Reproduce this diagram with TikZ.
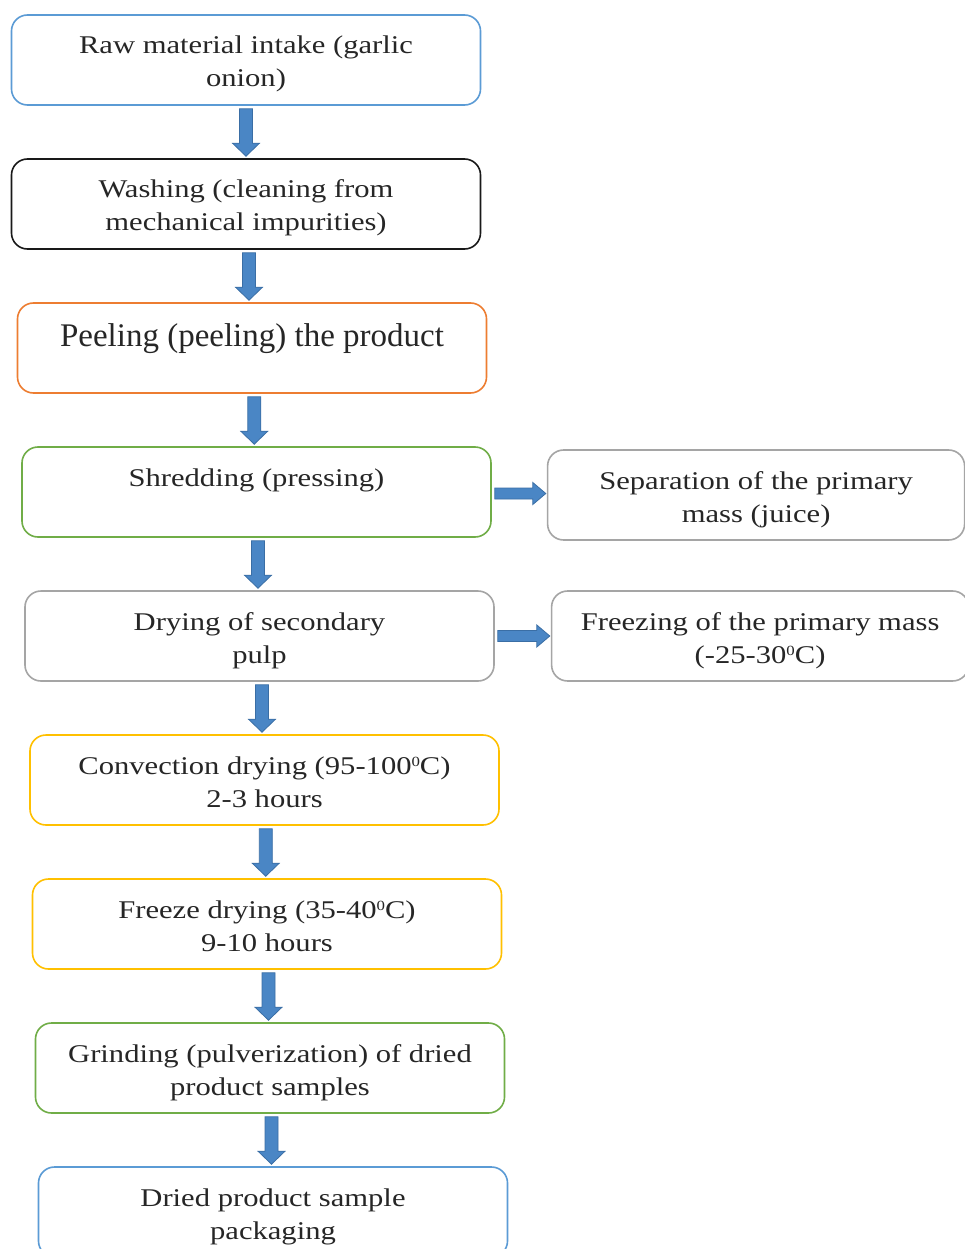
\documentclass[tikz,border=0pt]{standalone}
\usepackage{fontspec}
\setmainfont{Liberation Serif}[FakeStretch=1.2]
\newfontfamily\peelfont{Liberation Serif}
\usetikzlibrary{positioning,calc}
\definecolor{stepblue}{HTML}{5B9BD5}
\definecolor{steporange}{HTML}{ED7D31}
\definecolor{stepgreen}{HTML}{70AD47}
\definecolor{stepgray}{HTML}{A5A5A5}
\definecolor{stepyellow}{HTML}{FFC000}
\definecolor{arrowfill}{HTML}{4A86C5}
\definecolor{arrowline}{HTML}{3A6EA5}
\newcommand{\supdeg}[1]{\raisebox{7.5pt}{\fontsize{14}{14}\selectfont #1}}
\tikzstyle{st} = [rectangle, draw, rounded corners=16pt, line width=1.6pt,
    minimum width=469pt, minimum height=90pt, inner sep=0pt, align=center,
    text height=18pt, text depth=30pt, text=black!85,
    font=\fontsize{25.5}{33}\selectfont]
\tikzstyle{sttwo} = [st, text height=60pt, text depth=6pt]
\tikzstyle{dn} = [draw=arrowline, fill=arrowfill, line width=0.8pt,
    to path={let \p1=(\tikztostart.south), \p2=(\tikztotarget.north) in
      ({(\x1+\x2)/2-6.5pt},{\y1-3pt}) -- ({(\x1+\x2)/2+6.5pt},{\y1-3pt})
      -- ({(\x1+\x2)/2+6.5pt},{\y2+15pt}) -- ({(\x1+\x2)/2+13.5pt},{\y2+15pt})
      -- ({(\x1+\x2)/2},{\y2+2pt}) -- ({(\x1+\x2)/2-13.5pt},{\y2+15pt})
      -- ({(\x1+\x2)/2-6.5pt},{\y2+15pt}) -- cycle}]
\tikzstyle{rt} = [draw=arrowline, fill=arrowfill, line width=0.8pt,
    to path={let \p1=(\tikztostart.east), \p2=(\tikztotarget.west) in
      ({\x1+3pt},{(\y1+\y2)/2+5.5pt}) -- ({\x1+3pt},{(\y1+\y2)/2-5.5pt})
      -- ({\x2-14pt},{(\y1+\y2)/2-5.5pt}) -- ({\x2-14pt},{(\y1+\y2)/2-11pt})
      -- ({\x2-1pt},{(\y1+\y2)/2}) -- ({\x2-14pt},{(\y1+\y2)/2+11pt})
      -- ({\x2-14pt},{(\y1+\y2)/2+5.5pt}) -- cycle}]

\begin{document}
\begin{tikzpicture}[node distance=144pt]

  \path[use as bounding box, fill=white] (0,0) rectangle (965pt,-1249pt);

  \node[sttwo, draw=stepblue]   (raw)    at (246pt,-60pt)   {Raw material intake (garlic\\onion)};
  \node[sttwo, draw=black!90]   (wash)   [below of=raw]    {Washing (cleaning from\\mechanical impurities)};
  \node[st, draw=steporange, text height=23pt, text depth=26pt,
        font=\peelfont\fontsize{33}{40}\selectfont]
                                (peel)   [below of=wash, xshift=6pt]     {Peeling (peeling) the product};
  \node[st, draw=stepgreen]     (shred)  [below of=peel, xshift=4.5pt]   {Shredding (pressing)};
  \node[sttwo, draw=stepgray]   (pulp)   [below of=shred, xshift=3pt]    {Drying of secondary\\pulp};
  \node[sttwo, draw=stepyellow] (conv)   [below of=pulp, xshift=5pt]     {Convection drying (95-100\supdeg{0}C)\\2-3 hours};
  \node[sttwo, draw=stepyellow] (freeze) [below of=conv, xshift=2.5pt]   {Freeze drying (35-40\supdeg{0}C)\\9-10 hours};
  \node[sttwo, draw=stepgreen]  (grind)  [below of=freeze, xshift=3pt]  {Grinding (pulverization) of dried\\product samples};
  \node[sttwo, draw=stepblue]   (pack)   [below of=grind, xshift=3pt]   {Dried product sample\\packaging};

  \node[sttwo, draw=stepgray, minimum width=417pt] (juice) [right=55pt of shred, yshift=-3pt] {Separation of the primary\\mass (juice)};
  \node[sttwo, draw=stepgray, minimum width=417pt] (frost) [right=56pt of pulp]             {Freezing of the primary mass\\(-25-30\supdeg{0}C)};

  \draw[dn] (raw) to (wash);
  \draw[dn] (wash) to (peel);
  \draw[dn] (peel) to (shred);
  \draw[dn] (shred) to (pulp);
  \draw[dn] (pulp) to (conv);
  \draw[dn] (conv) to (freeze);
  \draw[dn] (freeze) to (grind);
  \draw[dn] (grind) to (pack);
  \draw[rt] (shred) to (juice);
  \draw[rt] (pulp) to (frost);
\end{tikzpicture}
\end{document}
